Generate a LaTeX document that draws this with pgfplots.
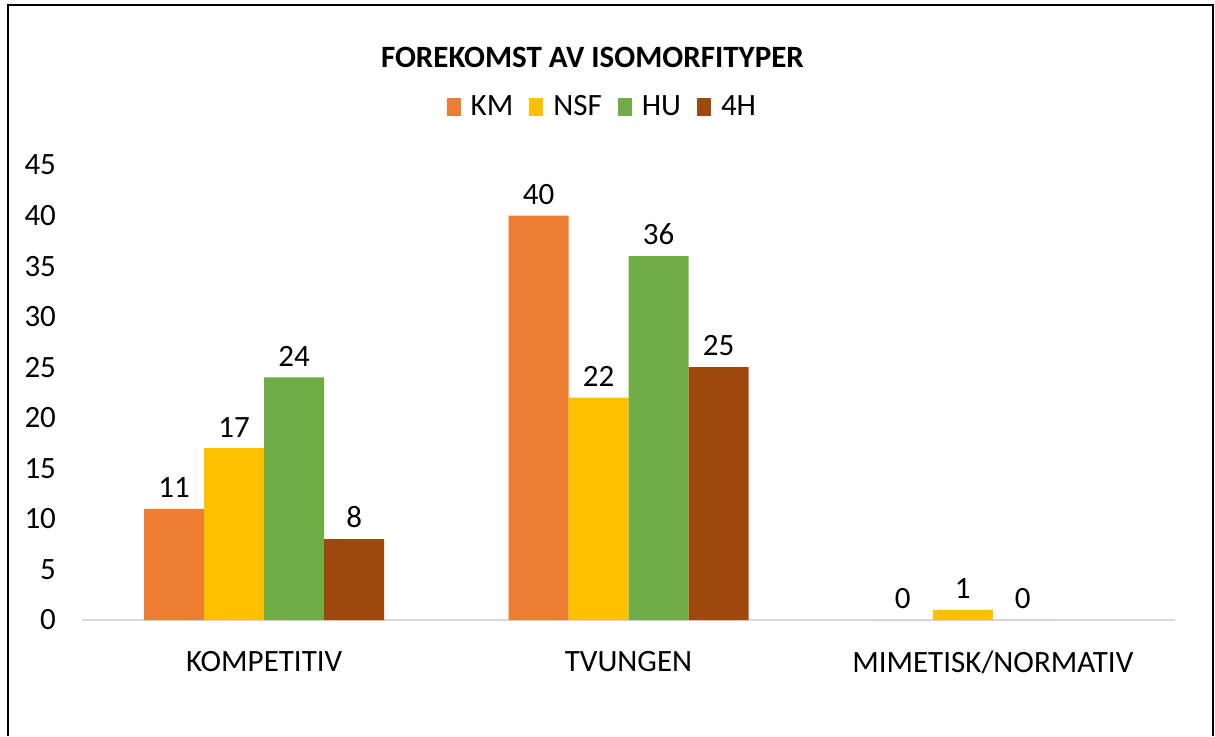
\documentclass[border=0pt]{standalone}
\usepackage{fontspec}
\setmainfont{Carlito}
\usepackage{pgfplots}
\pgfplotsset{compat=1.18}
\definecolor{cKM}{HTML}{ED7D31}
\definecolor{cNSF}{HTML}{FFC000}
\definecolor{cHU}{HTML}{70AD47}
\definecolor{c4H}{HTML}{9E480E}
\begin{document}
\begin{tikzpicture}
\useasboundingbox (0,0) rectangle (607.5pt,368pt);
\draw[black, line width=0.8pt] (4pt,0) -- (4pt,365.5pt) -- (606.5pt,365.5pt) -- (606.5pt,0);
\begin{axis}[
  at={(41pt,58pt)}, anchor=south west,
  scale only axis, width=546.5pt, height=227.5pt,
  ybar=0pt, bar width=30pt,
  xmin=-0.5, xmax=2.5, ymin=0, ymax=45,
  xtick={0,1,2}, xticklabels={KOMPETITIV,TVUNGEN,MIMETISK/NORMATIV},
  ytick={0,5,...,45},
  major tick length=0pt,
  axis lines*=left,
  x axis line style={draw=black!15, line width=0.8pt},
  y axis line style={draw=none},
  /pgf/number format/assume math mode=true,
  tick label style={font=\fontsize{15.5}{18}\selectfont},
  yticklabel style={xshift=-9.5pt},
  xticklabel style={yshift=-12pt},
  nodes near coords,
  every node near coord/.append style={font=\fontsize{15.5}{18}\selectfont, yshift=2pt, black},
  title={\textbf{FOREKOMST AV ISOMORFITYPER}},
  title style={font=\fontsize{15.5}{18}\selectfont, at={(rel axis cs:0.467,1.209)}, anchor=center},
  legend columns=4,
  legend style={draw=none, at={(rel axis cs:0.477,1.128)}, anchor=center, font=\fontsize{15.5}{18}\selectfont,
    /tikz/every even column/.append style={column sep=6pt},
    /tikz/every odd column/.append style={column sep=3pt}},
  legend image code/.code={\fill[#1] (1pt,-4.5pt) rectangle (8pt,4.5pt);},
]
\addplot[fill=cKM, draw=none] coordinates {(0,11) (1,40) (2,0)};
\addplot[fill=cNSF, draw=none] coordinates {(0,17) (1,22) (2,1)};
\addplot[fill=cHU, draw=none] coordinates {(0,24) (1,36) (2,0)};
\addplot[fill=c4H, draw=none] coordinates {(0,8) (1,25)};
\legend{KM,NSF,HU,4H}
\end{axis}
\end{tikzpicture}
\end{document}
